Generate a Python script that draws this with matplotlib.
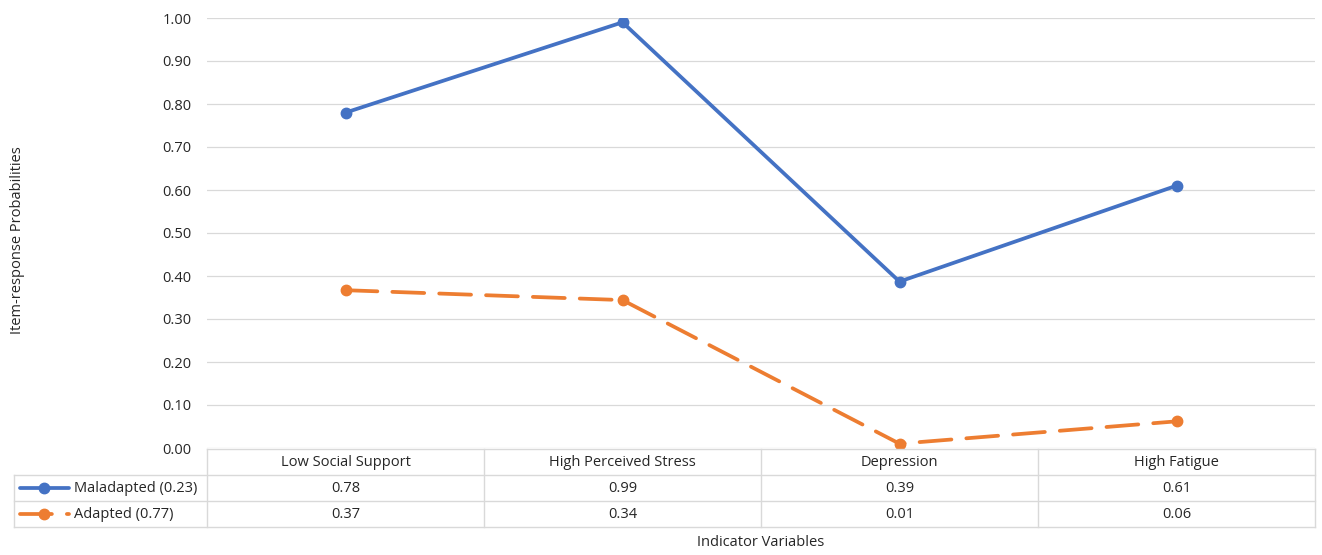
import matplotlib
matplotlib.use("Agg")
import matplotlib.pyplot as plt
from matplotlib.lines import Line2D
import numpy as np

categories = ["Low Social Support", "High Perceived Stress", "Depression", "High Fatigue"]
maladapted = [0.78, 0.99, 0.387, 0.61]
adapted = [0.367, 0.344, 0.01, 0.062]
series_names = ["Maladapted (0.23)", "Adapted (0.77)"]
yticks = [0.0, 0.1, 0.2, 0.3, 0.4, 0.5, 0.6, 0.7, 0.8, 0.9, 1.0]

plt.rcParams['font.family'] = ['Open Sans', 'DejaVu Sans']
W, H = 1322, 555
fig = plt.figure(figsize=(W / 100, H / 100), dpi=100)

def fx(px):
    return px / W

def fy(py):
    return 1 - py / H

blue = "#4472C4"
orange = "#ED7D31"
grid = "#D9D9D9"
txt = "#262626"
FS = 10.5
LW = 2.7
MS = 7.5

x0, x1 = 207, 1315
ytop, ybot = 18, 448
ax = fig.add_axes([fx(x0), fy(ybot), fx(x1 - x0), fy(ytop) - fy(ybot)])
x = np.arange(len(categories))
ax.set_xlim(-0.5, len(categories) - 0.5)
ax.set_ylim(0, 1.0)
ax.set_yticks(yticks)
ax.set_yticklabels([f"{v:.2f}" for v in yticks], fontsize=FS, color=txt)
ax.tick_params(axis='y', length=0, pad=11)
ax.set_xticks([])
for s in ax.spines.values():
    s.set_visible(False)
for v in yticks:
    ax.axhline(v, color=grid, lw=0.9, zorder=0)

ax.plot(x, maladapted, color=blue, lw=LW, marker='o', ms=MS, zorder=3,
        solid_capstyle='round', solid_joinstyle='round')
ax.plot(x, adapted, color=orange, lw=LW, marker='o', ms=MS, zorder=3,
        dashes=(8.5, 4.0), dash_capstyle='round')

# data table
rows_y = [449, 474, 501, 527]
tab = fig.add_axes([fx(x0), fy(rows_y[-1]), fx(x1 - x0), fy(rows_y[0]) - fy(rows_y[-1])])
tab.set_xlim(-0.5, len(categories) - 0.5)
tab.set_ylim(3, 0)
tab.axis('off')
cw = (x1 - x0) / len(categories)
legx = -0.5 - (x0 - 14) / cw
lc = dict(color=grid, lw=1.0, clip_on=False)
tab.plot([-0.5, len(categories) - 0.5], [0, 0], **lc)
for r in (1, 2, 3):
    tab.plot([legx, len(categories) - 0.5], [r, r], **lc)
tab.plot([legx, legx], [1, 3], **lc)
for k in range(len(categories) + 1):
    tab.plot([k - 0.5, k - 0.5], [0, 3], **lc)
for i, c in enumerate(categories):
    tab.text(i, 0.5, c, ha='center', va='center', fontsize=FS, color=txt)
    tab.text(i, 1.5, f"{maladapted[i]:.2f}", ha='center', va='center', fontsize=FS, color=txt)
    tab.text(i, 2.5, f"{adapted[i]:.2f}", ha='center', va='center', fontsize=FS, color=txt)

# legend keys
px = 1 / cw
kx0 = legx + 6 * px
kx1 = legx + 55 * px
kxm = legx + 30 * px
tab.add_line(Line2D([kx0, kx1], [1.5, 1.5], color=blue, lw=LW, solid_capstyle='round', clip_on=False))
tab.add_line(Line2D([kxm], [1.5], color=blue, marker='o', ms=MS, clip_on=False))
tab.add_line(Line2D([kx0, kx1], [2.5, 2.5], color=orange, lw=LW, dashes=(8.5, 4.0),
                    dash_capstyle='round', clip_on=False))
tab.add_line(Line2D([kxm], [2.5], color=orange, marker='o', ms=MS, clip_on=False))
tab.text(legx + 60 * px, 1.5, series_names[0], ha='left', va='center', fontsize=FS, color=txt)
tab.text(legx + 60 * px, 2.5, series_names[1], ha='left', va='center', fontsize=FS, color=txt)

fig.text(fx(18), fy(240), "Item-response Probabilities", rotation=90, ha='center', va='center',
         fontsize=FS, color=txt)
fig.text(fx(761), fy(543), "Indicator Variables", ha='center', va='center', fontsize=FS, color=txt)

fig.savefig("out.png", dpi=100)
